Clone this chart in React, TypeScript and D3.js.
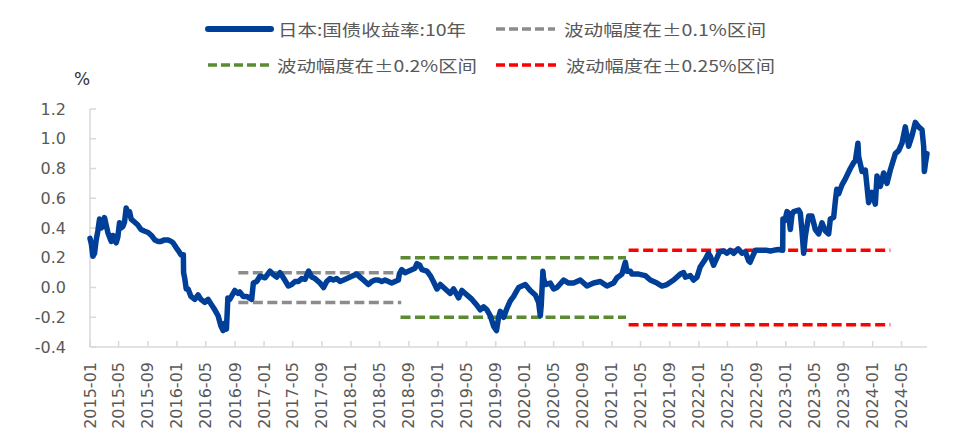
import React from "react";
import * as d3 from "d3";

// 日本10年期国债收益率
const jgb2015: [string, number][] = [
  ["2015-01-01", 0.33], ["2015-01-07", 0.29], ["2015-01-13", 0.21], ["2015-01-20", 0.23],
  ["2015-01-27", 0.32], ["2015-02-03", 0.38], ["2015-02-10", 0.46], ["2015-02-17", 0.4],
  ["2015-02-24", 0.41], ["2015-03-03", 0.47], ["2015-03-10", 0.42], ["2015-03-17", 0.37],
  ["2015-03-24", 0.34], ["2015-03-31", 0.31], ["2015-04-07", 0.35], ["2015-04-14", 0.345],
  ["2015-04-21", 0.3], ["2015-04-28", 0.34], ["2015-05-05", 0.435], ["2015-05-12", 0.4],
  ["2015-05-19", 0.41], ["2015-05-26", 0.44], ["2015-06-02", 0.535], ["2015-06-09", 0.49],
  ["2015-06-16", 0.51], ["2015-06-23", 0.46], ["2015-07-07", 0.44], ["2015-07-21", 0.42],
  ["2015-08-03", 0.39], ["2015-08-17", 0.38], ["2015-09-02", 0.37], ["2015-09-16", 0.35],
  ["2015-09-30", 0.32], ["2015-10-13", 0.31], ["2015-10-26", 0.31], ["2015-11-10", 0.32],
  ["2015-11-25", 0.32], ["2015-12-08", 0.31], ["2015-12-16", 0.3], ["2015-12-28", 0.27],
];
const jgb2016: [string, number][] = [
  ["2016-01-06", 0.25], ["2016-01-18", 0.22], ["2016-01-28", 0.22], ["2016-01-29", 0.1],
  ["2016-02-03", 0.06], ["2016-02-09", -0.01], ["2016-02-17", -0.01], ["2016-02-29", -0.06],
  ["2016-03-16", -0.08], ["2016-03-30", -0.05], ["2016-04-11", -0.08], ["2016-04-27", -0.1],
  ["2016-05-11", -0.08], ["2016-05-23", -0.11], ["2016-06-08", -0.15], ["2016-06-22", -0.19],
  ["2016-07-04", -0.26], ["2016-07-13", -0.29], ["2016-07-20", -0.24], ["2016-07-27", -0.28],
  ["2016-08-02", -0.07], ["2016-08-10", -0.08], ["2016-08-31", -0.02], ["2016-09-14", -0.04],
  ["2016-09-21", -0.03], ["2016-10-05", -0.06], ["2016-10-20", -0.06], ["2016-11-10", -0.08],
  ["2016-11-17", 0.03], ["2016-12-01", 0.04], ["2016-12-15", 0.076],
];
const jgb2017: [string, number][] = [
  ["2017-01-05", 0.065], ["2017-01-26", 0.11], ["2017-02-09", 0.087], ["2017-02-23", 0.07],
  ["2017-03-09", 0.1], ["2017-03-23", 0.065], ["2017-04-13", 0.01], ["2017-04-27", 0.02],
  ["2017-05-11", 0.04], ["2017-05-25", 0.04], ["2017-06-08", 0.06], ["2017-06-22", 0.055],
  ["2017-07-07", 0.11], ["2017-07-20", 0.07], ["2017-08-03", 0.06], ["2017-08-24", 0.03],
  ["2017-09-08", 0.0], ["2017-09-21", 0.04], ["2017-10-05", 0.06], ["2017-10-19", 0.05],
  ["2017-11-02", 0.06], ["2017-11-16", 0.04], ["2017-12-01", 0.05], ["2017-12-15", 0.06],
];
const jgb2018: [string, number][] = [
  ["2018-01-11", 0.08], ["2018-01-25", 0.09], ["2018-02-08", 0.07], ["2018-02-22", 0.05],
  ["2018-03-15", 0.02], ["2018-03-29", 0.04], ["2018-04-12", 0.05], ["2018-04-26", 0.05],
  ["2018-05-10", 0.04], ["2018-05-24", 0.05], ["2018-06-07", 0.04], ["2018-06-21", 0.03],
  ["2018-07-05", 0.04], ["2018-07-19", 0.05], ["2018-07-23", 0.09], ["2018-08-02", 0.12],
  ["2018-08-16", 0.1], ["2018-08-30", 0.11], ["2018-09-13", 0.12], ["2018-09-27", 0.13],
  ["2018-10-05", 0.16], ["2018-10-17", 0.15], ["2018-10-26", 0.12], ["2018-11-16", 0.11],
  ["2018-11-30", 0.08], ["2018-12-13", 0.04], ["2018-12-28", -0.01],
];
const jgb2019: [string, number][] = [
  ["2019-01-11", 0.02], ["2019-01-25", 0.0], ["2019-02-08", -0.02], ["2019-02-22", -0.04],
  ["2019-03-08", -0.01], ["2019-03-29", -0.07], ["2019-04-12", -0.02], ["2019-04-26", -0.04],
  ["2019-05-10", -0.06], ["2019-05-24", -0.08], ["2019-06-14", -0.12], ["2019-06-28", -0.15],
  ["2019-07-12", -0.13], ["2019-07-26", -0.15], ["2019-08-09", -0.19], ["2019-08-23", -0.26],
  ["2019-09-04", -0.29], ["2019-09-13", -0.2], ["2019-09-20", -0.16], ["2019-10-04", -0.2],
  ["2019-10-18", -0.14], ["2019-11-01", -0.09], ["2019-11-15", -0.06], ["2019-11-22", -0.04],
  ["2019-12-06", 0.0], ["2019-12-20", 0.01],
];
const jgb2020: [string, number][] = [
  ["2020-01-03", 0.02], ["2020-01-24", -0.02], ["2020-02-14", -0.05], ["2020-02-28", -0.1],
  ["2020-03-06", -0.19], ["2020-03-10", -0.12], ["2020-03-17", 0.11], ["2020-03-20", 0.06],
  ["2020-03-27", 0.02], ["2020-04-17", 0.03], ["2020-05-01", -0.01], ["2020-05-15", 0.0],
  ["2020-06-12", 0.05], ["2020-07-03", 0.03], ["2020-07-24", 0.03], ["2020-08-21", 0.05],
  ["2020-09-18", 0.01], ["2020-10-16", 0.03], ["2020-11-13", 0.04], ["2020-12-11", 0.01],
  ["2020-12-25", 0.02],
];
const jgb2021: [string, number][] = [
  ["2021-01-08", 0.03], ["2021-01-22", 0.065], ["2021-02-12", 0.09], ["2021-02-26", 0.17],
  ["2021-03-05", 0.11], ["2021-03-19", 0.11], ["2021-03-26", 0.09], ["2021-04-23", 0.09],
  ["2021-05-21", 0.08], ["2021-06-11", 0.05], ["2021-07-09", 0.03], ["2021-07-30", 0.01],
  ["2021-08-20", 0.02], ["2021-09-17", 0.05], ["2021-10-15", 0.09], ["2021-10-29", 0.1],
  ["2021-11-05", 0.07], ["2021-11-26", 0.08], ["2021-12-10", 0.05], ["2021-12-24", 0.07],
];
const jgb2022: [string, number][] = [
  ["2022-01-07", 0.14], ["2022-01-28", 0.19], ["2022-02-10", 0.23], ["2022-02-18", 0.21],
  ["2022-03-04", 0.15], ["2022-03-18", 0.2], ["2022-03-29", 0.24], ["2022-04-15", 0.245],
  ["2022-04-29", 0.23], ["2022-05-13", 0.25], ["2022-05-27", 0.23], ["2022-06-15", 0.26],
  ["2022-07-01", 0.23], ["2022-07-15", 0.24], ["2022-07-29", 0.18], ["2022-08-04", 0.17],
  ["2022-08-12", 0.2], ["2022-08-26", 0.25], ["2022-09-16", 0.25], ["2022-09-30", 0.25],
  ["2022-10-14", 0.25], ["2022-10-28", 0.245], ["2022-11-11", 0.25], ["2022-12-02", 0.255],
  ["2022-12-19", 0.25], ["2022-12-20", 0.46], ["2022-12-28", 0.45],
];
const jgb2023: [string, number][] = [
  ["2023-01-06", 0.51], ["2023-01-13", 0.5], ["2023-01-20", 0.39], ["2023-01-27", 0.49],
  ["2023-02-03", 0.51], ["2023-02-24", 0.52], ["2023-03-03", 0.5], ["2023-03-10", 0.38],
  ["2023-03-17", 0.23], ["2023-03-24", 0.345], ["2023-04-07", 0.48], ["2023-04-21", 0.48],
  ["2023-05-05", 0.39], ["2023-05-19", 0.36], ["2023-06-02", 0.435], ["2023-06-16", 0.38],
  ["2023-06-30", 0.36], ["2023-07-07", 0.46], ["2023-07-21", 0.47], ["2023-07-28", 0.58],
  ["2023-08-03", 0.66], ["2023-08-11", 0.63], ["2023-08-25", 0.69], ["2023-09-08", 0.73],
  ["2023-09-29", 0.8], ["2023-10-13", 0.84], ["2023-10-20", 0.85], ["2023-10-31", 0.97],
  ["2023-11-03", 0.88], ["2023-11-17", 0.78], ["2023-12-01", 0.79], ["2023-12-15", 0.57],
  ["2023-12-29", 0.64],
];
const jgb2024: [string, number][] = [
  ["2024-01-12", 0.56], ["2024-01-19", 0.75], ["2024-02-02", 0.68], ["2024-02-16", 0.77],
  ["2024-03-01", 0.7], ["2024-03-15", 0.79], ["2024-04-05", 0.9], ["2024-04-19", 0.92],
  ["2024-05-03", 0.97], ["2024-05-17", 1.08], ["2024-05-31", 0.95], ["2024-06-14", 1.02],
  ["2024-06-28", 1.11], ["2024-07-12", 1.08], ["2024-07-26", 1.06], ["2024-08-02", 0.95],
  ["2024-08-05", 0.78], ["2024-08-09", 0.83], ["2024-08-16", 0.9],
];

// 收益率曲线控制区间
const bandLabels = ["波动幅度在±0.1%区间", "波动幅度在±0.2%区间", "波动幅度在±0.25%区间"];
const bandStarts = ["2016-09-15", "2018-07-28", "2021-03-12"];
const bandEnds = ["2018-07-31", "2021-03-01", "2024-03-15"];
const bandWidths = [0.1, 0.2, 0.25];

const seriesName = "日本:国债收益率:10年";
const yTicks = [-0.4, -0.2, 0, 0.2, 0.4, 0.6, 0.8, 1.0, 1.2];
const xStart = "2015-01-01";
const xEnd = "2024-08-16";

const W = 975;
const H = 447;
const blue = "#003f98";
const bandColors = ["#8c8c8c", "#5b8a32", "#ff0000"];
const textColor = "#595959";
const axisColor = "#d9d9d9";
const tickFont = "'DejaVu Sans', 'Noto Sans', sans-serif";
const cjkFont = "'Noto Sans CJK SC', 'Noto Sans', sans-serif";

const parse = d3.timeParse("%Y-%m-%d");

export default function App() {
  const series = [
    ...jgb2015, ...jgb2016, ...jgb2017, ...jgb2018, ...jgb2019,
    ...jgb2020, ...jgb2021, ...jgb2022, ...jgb2023, ...jgb2024,
  ].map(([d, v]) => ({ date: parse(d) as Date, value: v }));

  const x = d3.scaleTime().domain([parse(xStart) as Date, parse(xEnd) as Date]).range([90, 927]);
  const y = d3.scaleLinear().domain([-0.4, 1.2]).range([347, 109]);

  const line = d3
    .line<{ date: Date; value: number }>()
    .x((d) => x(d.date))
    .y((d) => y(d.value));

  const xTicks = d3.timeMonth.every(4)!.range(parse(xStart) as Date, x.domain()[1]);
  const fmtDate = d3.timeFormat("%Y-%m");
  const fmtY = (v: number) => (Math.abs(v) < 1e-9 ? 0 : v).toFixed(1);

  const legend = [
    { label: seriesName, x1: 208, x2: 271, tx: 278, tw: 188, ty: 29, color: blue, dash: null, sw: 6 },
    { label: bandLabels[0], x1: 496, x2: 555, tx: 564, tw: 202, ty: 29, color: bandColors[0], dash: "9,4", sw: 3.5 },
    { label: bandLabels[1], x1: 208, x2: 270, tx: 277, tw: 200, ty: 65, color: bandColors[1], dash: "9,4", sw: 3.5 },
    { label: bandLabels[2], x1: 496, x2: 556, tx: 566, tw: 209, ty: 65, color: bandColors[2], dash: "9,4", sw: 3.5 },
  ];

  return (
    <svg width={W} height={H} style={{ position: "absolute", left: 0, top: 0, background: "#fff" }}>
      {/* legend */}
      <g>
        {legend.map((l, i) => (
          <g key={i}>
            <line
              x1={l.x1}
              x2={l.x2}
              y1={l.ty}
              y2={l.ty}
              stroke={l.color}
              strokeWidth={l.sw}
              strokeDasharray={l.dash ?? undefined}
              strokeLinecap={l.dash ? "butt" : "round"}
            />
            <text
              x={l.tx}
              y={l.ty}
              dominantBaseline="central"
              fontFamily={cjkFont}
              fontSize={16}
              fill={textColor}
              textLength={l.tw}
              lengthAdjust="spacingAndGlyphs"
            >
              {l.label}
            </text>
          </g>
        ))}
      </g>

      <text x={74} y={85} fontFamily={tickFont} fontSize={17} fill="#333">
        %
      </text>

      {/* axes */}
      <line x1={90} x2={90} y1={y(1.2)} y2={y(-0.4)} stroke={axisColor} strokeWidth={1.5} />
      <line x1={90} x2={927} y1={y(-0.4)} y2={y(-0.4)} stroke={axisColor} strokeWidth={1.5} />
      {yTicks.map((t) => (
        <g key={t}>
          <line x1={90} x2={96} y1={y(t)} y2={y(t)} stroke={axisColor} strokeWidth={1.5} />
          <text
            x={66}
            y={y(t)}
            textAnchor="end"
            dominantBaseline="central"
            fontFamily={tickFont}
            fontSize={16}
            fill={textColor}
          >
            {fmtY(t)}
          </text>
        </g>
      ))}
      {xTicks.map((t) => (
        <g key={t.getTime()}>
          <line x1={x(t)} x2={x(t)} y1={y(-0.4)} y2={y(-0.4) - 6} stroke={axisColor} strokeWidth={1.5} />
          <text
            transform={`translate(${x(t)},${y(-0.4) + 15}) rotate(-90)`}
            textAnchor="end"
            dominantBaseline="central"
            fontFamily={tickFont}
            fontSize={16}
            fill={textColor}
          >
            {fmtDate(t)}
          </text>
        </g>
      ))}

      {/* bands */}
      {bandWidths.map((w, i) =>
        [w, -w].map((v) => (
          <line
            key={`${i}-${v}`}
            x1={x(parse(bandStarts[i]) as Date)}
            x2={x(parse(bandEnds[i]) as Date)}
            y1={y(v)}
            y2={y(v)}
            stroke={bandColors[i]}
            strokeWidth={3.5}
            strokeDasharray="10,4.5"
          />
        ))
      )}

      {/* yield */}
      <path d={line(series) ?? ""} fill="none" stroke={blue} strokeWidth={5.5} strokeLinejoin="round" strokeLinecap="round" />
    </svg>
  );
}
